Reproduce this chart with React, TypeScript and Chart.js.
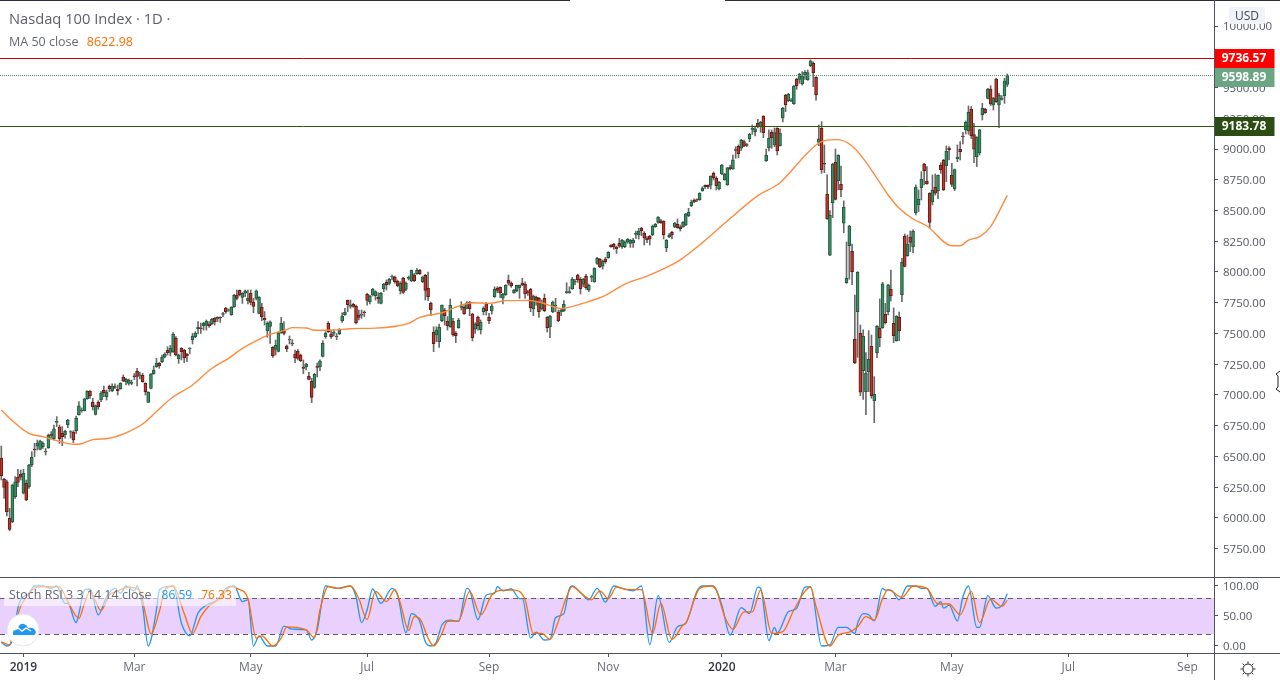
import { useEffect, useRef } from 'react';
import { Chart, registerables } from 'chart.js';

Chart.register(...registerables);

// one row per session: open, high, low, close
const candles: number[][] = [
  [6485,6585,6309,6344],[6314,6323,6160,6249],[6295,6309,6016,6052],[5997,6079,5897,5908],
  [5970,6276,5962,6268],[6173,6336,6160,6295],[6331,6396,6255,6290],[6355,6390,6309,6331],
  [6201,6396,6195,6363],[6282,6309,6141,6146],[6255,6436,6241,6431],[6431,6539,6417,6493],
  [6561,6607,6499,6553],[6583,6634,6553,6607],[6558,6634,6553,6626],[6580,6620,6566,6607],
  [6537,6566,6512,6542],[6572,6683,6566,6672],[6680,6702,6648,6672],[6645,6756,6634,6724],
  [6778,6824,6743,6786],[6740,6756,6607,6645],[6688,6743,6588,6661],[6678,6715,6648,6705],
  [6759,6802,6734,6797],[6697,6710,6650,6702],[6699,6710,6613,6634],[6710,6829,6688,6813],
  [6840,6946,6837,6911],[6873,6895,6860,6878],[6873,6973,6870,6968],[6970,7035,6965,7030],
  [7030,7035,6973,6995],[6943,6973,6878,6905],[6843,6919,6837,6913],[6940,6954,6884,6905],
  [6959,7027,6946,7016],[7038,7073,6986,7016],[6986,7041,6959,7024],[7071,7081,7027,7052],
  [7035,7090,7027,7073],[7068,7090,7052,7062],[7049,7081,7000,7035],[7052,7100,7046,7095],
  [7144,7163,7108,7114],[7106,7136,7081,7127],[7095,7130,7081,7119],[7095,7122,7084,7106],
  [7155,7175,7125,7149],[7192,7217,7073,7152],[7157,7185,7130,7163],[7160,7176,7103,7108],
  [7095,7100,7000,7027],[6940,7027,6938,7022],[7054,7176,7049,7171],[7174,7236,7168,7203],
  [7230,7298,7225,7257],[7257,7266,7217,7238],[7271,7325,7263,7306],[7309,7344,7301,7333],
  [7363,7393,7325,7344],[7347,7404,7317,7379],[7352,7507,7347,7496],[7461,7474,7317,7328],
  [7295,7333,7257,7323],[7379,7385,7285,7352],[7363,7371,7263,7304],[7331,7339,7271,7320],
  [7377,7385,7335,7382],[7450,7501,7415,7480],[7474,7515,7466,7504],[7539,7596,7496,7550],
  [7545,7585,7500,7539],[7564,7591,7528,7583],[7566,7610,7528,7599],[7577,7596,7550,7564],
  [7580,7623,7569,7615],[7623,7631,7569,7596],[7618,7637,7596,7631],[7631,7637,7590,7626],
  [7656,7672,7637,7661],[7707,7713,7664,7678],[7690,7700,7680,7693],[7653,7718,7648,7713],
  [7718,7818,7713,7810],[7813,7854,7772,7786],[7851,7854,7805,7816],[7794,7832,7745,7827],
  [7827,7854,7800,7846],[7767,7854,7740,7786],[7827,7854,7732,7753],[7753,7786,7669,7721],
  [7786,7854,7772,7846],[7664,7800,7659,7794],[7713,7745,7604,7637],[7623,7678,7569,7612],
  [7523,7596,7469,7583],[7558,7604,7420,7594],[7388,7393,7306,7317],[7371,7447,7325,7404],
  [7355,7515,7350,7501],[7507,7631,7501,7583],[7520,7596,7488,7501],[7398,7407,7352,7377],
  [7447,7480,7415,7453],[7415,7450,7400,7423],[7333,7366,7263,7304],[7355,7371,7285,7298],
  [7323,7333,7271,7279],[7225,7285,7173,7217],[7230,7257,7203,7252],[7152,7184,7122,7127],
  [7111,7136,6938,6981],[7062,7176,7054,7168],[7236,7260,7147,7225],[7230,7285,7198,7276],
  [7314,7442,7309,7420],[7474,7515,7461,7501],[7583,7596,7507,7515],[7496,7528,7461,7474],
  [7501,7530,7480,7512],[7475,7500,7450,7480],[7499,7540,7490,7528],[7604,7669,7591,7642],
  [7653,7704,7648,7672],[7769,7772,7677,7734],[7721,7772,7704,7729],[7737,7745,7712,7721],
  [7721,7731,7577,7588],[7650,7691,7610,7631],[7650,7691,7623,7658],[7674,7685,7637,7669],
  [7818,7826,7731,7769],[7759,7813,7740,7805],[7813,7867,7805,7859],[7807,7848,7772,7840],
  [7794,7832,7745,7783],[7745,7834,7740,7826],[7864,7908,7840,7899],[7916,7935,7853,7897],
  [7908,7948,7894,7940],[7959,7975,7935,7965],[7956,7967,7908,7921],[7924,7935,7880,7889],
  [7848,7921,7821,7908],[7948,7956,7826,7834],[7859,7921,7848,7908],[7948,7967,7935,7956],
  [7929,8016,7921,8013],[7978,7989,7921,7929],[7986,8030,7981,8013],[8013,8021,7978,7986],
  [7921,7967,7913,7959],[7973,7981,7772,7851],[7867,7999,7767,7799],[7745,7756,7645,7693],
  [7509,7555,7352,7417],[7490,7555,7433,7525],[7433,7577,7387,7550],[7604,7734,7596,7729],
  [7691,7704,7569,7645],[7599,7637,7528,7563],[7555,7780,7550,7729],[7599,7623,7479,7490],
  [7501,7515,7425,7482],[7547,7623,7542,7610],[7712,7759,7691,7721],[7712,7726,7656,7661],
  [7704,7759,7699,7750],[7753,7761,7645,7702],[7656,7664,7439,7466],[7536,7588,7501,7577],
  [7631,7642,7528,7563],[7531,7610,7496,7591],[7677,7718,7650,7704],[7745,7753,7650,7685],
  [7631,7664,7580,7604],[7683,7737,7658,7723],[7799,7880,7794,7859],[7867,7880,7832,7851],
  [7875,7880,7791,7832],[7788,7826,7740,7818],[7815,7897,7810,7891],[7932,7975,7894,7910],
  [7910,7921,7875,7886],[7832,7859,7826,7851],[7848,7894,7840,7891],[7872,7894,7786,7891],
  [7910,7948,7889,7894],[7902,7921,7786,7821],[7840,7850,7810,7832],[7859,7867,7677,7710],
  [7702,7813,7645,7805],[7796,7805,7731,7769],[7786,7794,7631,7677],[7699,7772,7691,7756],
  [7786,7821,7677,7685],[7631,7637,7512,7547],[7555,7647,7466,7639],[7677,7764,7669,7756],
  [7723,7786,7677,7731],[7672,7691,7596,7604],[7677,7696,7645,7691],[7685,7767,7677,7737],
  [7832,7913,7826,7840],[7832,7880,7826,7840],[7864,7956,7859,7943],[7918,7940,7894,7927],
  [7973,7983,7916,7935],[7940,7956,7821,7864],[7902,7948,7880,7940],[7964,7981,7859,7872],
  [7853,7902,7840,7891],[7956,7975,7921,7964],[7921,8035,7916,8030],[8070,8119,8062,8111],
  [8103,8111,8035,8043],[8048,8097,8024,8086],[8105,8119,8070,8084],[8116,8165,8111,8160],
  [8217,8222,8200,8206],[8225,8233,8184,8203],[8200,8211,8151,8189],[8233,8273,8200,8211],
  [8206,8265,8192,8257],[8206,8254,8198,8244],[8244,8273,8233,8265],[8233,8265,8200,8260],
  [8238,8273,8200,8260],[8306,8333,8273,8314],[8303,8355,8268,8333],[8355,8363,8295,8336],
  [8314,8328,8219,8279],[8276,8287,8238,8263],[8290,8298,8219,8268],[8303,8382,8295,8371],
  [8368,8395,8363,8387],[8404,8450,8395,8444],[8417,8428,8395,8401],[8412,8417,8268,8303],
  [8198,8265,8165,8257],[8287,8314,8279,8298],[8323,8331,8268,8301],[8366,8404,8361,8398],
  [8388,8431,8355,8361],[8363,8382,8333,8352],[8369,8409,8363,8404],[8382,8477,8377,8472],
  [8458,8518,8450,8485],[8539,8585,8531,8566],[8583,8594,8564,8572],[8588,8594,8572,8583],
  [8588,8645,8583,8640],[8661,8694,8656,8680],[8705,8708,8678,8694],[8705,8708,8678,8694],
  [8705,8783,8675,8778],[8802,8813,8748,8767],[8762,8775,8667,8702],[8678,8737,8667,8729],
  [8797,8875,8791,8870],[8751,8802,8745,8794],[8710,8851,8705,8846],[8854,8870,8829,8840],
  [8838,8951,8835,8911],[8995,9019,8924,8989],[9022,9033,8930,8962],[9006,9079,8987,9071],
  [9060,9073,9019,9024],[9035,9045,9020,9030],[9084,9127,9060,9119],[9160,9195,9119,9168],
  [9141,9187,9106,9163],[9209,9241,9171,9182],[9182,9225,9136,9217],[9266,9271,9092,9133],
  [8905,9000,8900,8949],[9011,9155,8984,9087],[9136,9155,9006,9092],[9033,9171,9019,9133],
  [9168,9174,8951,8984],[9027,9163,9022,9127],[9252,9339,9220,9331],[9436,9445,9304,9361],
  [9393,9453,9385,9445],[9390,9410,9385,9398],[9369,9518,9363,9512],[9566,9575,9485,9515],
  [9566,9615,9534,9607],[9529,9629,9520,9594],[9602,9637,9566,9623],[9564,9642,9558,9621],
  [9678,9724,9670,9716],[9697,9710,9507,9621],[9583,9588,9398,9442],[9054,9195,9027,9082],
  [9168,9222,8802,8832],[8884,9033,8808,8876],[8632,8789,8428,8434],[8136,8499,8133,8461],
  [8564,8884,8442,8876],[8892,9000,8586,8591],[8743,8954,8667,8949],[8713,8862,8613,8670],
  [8396,8578,8320,8526],[7914,8244,7908,7949],[8214,8380,7941,8374],[8168,8228,7897,8003],
  [7453,7813,7255,7263],[7678,8003,7306,7997],[7502,7569,6995,7022],[7198,7529,6965,7477],
  [7027,7344,6840,7176],[7190,7523,7027,7290],[7396,7488,6973,6995],[6954,7149,6775,7006],
  [7344,7564,7304,7558],[7542,7781,7393,7466],[7548,7916,7542,7903],[7656,7745,7577,7588],
  [7678,7900,7651,7895],[7859,8016,7764,7808],[7583,7708,7426,7483],[7442,7645,7437,7640],
  [7632,7675,7442,7523],[7816,8111,7759,8079],[8290,8309,8041,8046],[8133,8301,8128,8225],
  [8282,8334,8166,8241],[8206,8342,8157,8331],[8483,8708,8464,8689],[8548,8667,8491,8591],
  [8686,8816,8586,8754],[8876,8884,8708,8824],[8737,8857,8713,8718],[8640,8645,8353,8404],
  [8572,8789,8545,8664],[8689,8797,8626,8640],[8661,8789,8596,8786],[8867,8889,8802,8832],
  [8908,8916,8661,8670],[8865,9025,8735,8981],[9006,9019,8911,8995],[8786,8884,8694,8713],
  [8678,8838,8661,8832],[8922,9033,8897,8935],[8998,9060,8911,8979],[9106,9136,9041,9100],
  [9155,9228,9122,9217],[9149,9350,9120,9298],[9323,9345,9085,9109],[9117,9209,8889,8998],
  [8938,9100,8857,9095],[8970,9160,8951,9155],[9279,9371,9236,9331],[9323,9330,9290,9295],
  [9412,9493,9407,9488],[9488,9515,9352,9366],[9358,9420,9317,9415],[9569,9575,9379,9385],
  [9358,9453,9173,9439],[9404,9434,9398,9415],[9434,9575,9371,9553],[9526,9610,9507,9596],
];

// [session, value]
const ma50: number[][] = [
  [0,6878],[4,6791],[10,6688],[15,6661],[20,6629],[26,6599],[29,6604],[33,6637],[39,6648],[46,6702],
  [51,6764],[56,6865],[61,6968],[69,7081],[76,7217],[82,7298],[87,7379],[93,7453],[97,7493],[102,7523],
  [105,7548],[110,7545],[113,7526],[120,7528],[126,7539],[135,7544],[143,7561],[147,7582],[151,7631],
  [159,7669],[165,7723],[170,7750],[176,7745],[182,7767],[190,7769],[195,7750],[202,7704],[211,7753],
  [218,7810],[225,7902],[233,7967],[241,8048],[245,8098],[253,8239],[261,8396],[273,8621],[281,8726],
  [288,8897],[294,9033],[297,9068],[302,9076],[307,9024],[311,8924],[316,8762],[320,8626],[324,8518],
  [329,8431],[334,8374],[343,8214],[346,8214],[349,8260],[353,8287],[357,8369],[363,8623],
];

const stochK: number[][] = [
  [0,6],[2,0],[4,10],[6,63],[7,77],[10,88],[12,100],[15,100],[18,96],[20,100],[23,71],[24,71],[27,39],[28,54],
  [30,93],[32,95],[35,52],[38,82],[41,96],[43,88],[45,100],[48,92],[49,100],[51,66],[53,0],[56,60],[57,93],
  [60,99],[62,100],[65,38],[68,17],[71,55],[74,68],[78,77],[81,96],[84,100],[87,74],[89,77],[91,0],[93,17],
  [96,0],[99,0],[102,33],[105,28],[110,27],[112,10],[114,27],[117,100],[121,96],[126,100],[128,82],[130,39],
  [132,60],[134,95],[137,71],[141,96],[143,85],[146,22],[148,54],[151,41],[153,7],[155,0],[157,7],[159,35],
  [162,43],[165,41],[168,96],[169,93],[172,44],[175,85],[178,88],[179,99],[181,92],[184,95],[187,79],[188,79],
  [191,13],[193,23],[196,10],[198,11],[200,47],[203,54],[205,96],[206,100],[209,89],[212,77],[215,96],[218,73],
  [221,100],[224,96],[228,92],[231,100],[234,2],[237,84],[241,6],[244,32],[247,38],[251,91],[253,100],[257,100],
  [260,68],[263,18],[267,64],[270,54],[273,98],[274,96],[277,9],[279,31],[280,22],[284,57],[287,63],[290,98],
  [292,99],[296,0],[299,2],[302,31],[305,31],[308,21],[309,38],[311,54],[313,52],[315,42],[318,96],[319,93],
  [321,93],[324,77],[327,100],[330,100],[332,96],[334,96],[337,66],[339,74],[340,63],[342,68],[345,42],[347,82],
  [349,100],[352,31],[353,31],[356,84],[359,63],[361,67],[363,87],
];

const stochD: number[][] = [
  [0,7],[3,2],[4,21],[7,66],[9,82],[13,98],[17,99],[21,98],[24,74],[28,46],[30,71],[32,91],[36,59],[39,85],
  [42,92],[46,98],[50,92],[52,54],[54,20],[57,57],[59,93],[62,100],[66,54],[69,21],[72,49],[75,67],[79,79],
  [83,99],[85,96],[89,79],[92,13],[94,17],[98,0],[101,13],[103,32],[110,27],[113,14],[115,60],[118,99],[122,96],
  [126,100],[129,79],[132,44],[135,91],[139,74],[142,94],[144,71],[147,26],[149,49],[151,46],[154,13],[156,0],
  [159,21],[161,41],[165,42],[169,91],[173,52],[177,85],[181,93],[185,93],[189,77],[192,21],[195,21],[198,11],
  [201,41],[204,82],[206,99],[210,85],[213,77],[216,92],[219,79],[222,98],[226,94],[231,94],[235,21],[238,71],
  [242,11],[246,35],[247,38],[252,96],[256,100],[258,93],[261,49],[264,28],[268,57],[271,57],[274,93],[278,21],
  [282,24],[286,60],[292,98],[294,66],[299,0],[302,18],[306,23],[309,32],[312,49],[315,43],[318,79],[320,94],
  [325,81],[329,100],[334,96],[338,70],[342,70],[346,52],[350,91],[353,39],[357,78],[361,66],[363,76],
];

const priceTicks = [5750, 6000, 6250, 6500, 6750, 7000, 7250, 7500, 7750, 8000, 8250, 8500, 8750, 9000, 9250, 9500, 10000];
const stochTicks = [0, 50, 100];
const stochBand = [20, 80];
const timeBars = [8, 48, 90, 132, 176, 219, 260, 301, 343, 385, 428];
const timeLabels = ['2019', 'Mar', 'May', 'Jul', 'Sep', 'Nov', '2020', 'Mar', 'May', 'Jul', 'Sep'];

const levelValues = [9736.57, 9598.89, 9183.78];
const levelColors = ['#ff0000', '#6ca584', '#2b4d14'];
const levelLines = ['#c80000', '#5e9678', '#2b5a0c'];

const FONT = '"Open Sans", sans-serif';
const TEXT = '#555861';
const AXIS = '#50535e';
const UP = '#3c8c64';
const UP_EDGE = '#1f5a3d';
const DOWN = '#bd362b';
const DOWN_EDGE = '#651b14';
const WICK = '#6a6a6a';

// the x range is the same in both panes, so the bars line up with the time axis
const X_MIN = -0.47;
const X_MAX = 437.6;

const fixedAxis = (w?: number, h?: number) => (s: any) => {
  if (w) s.width = w;
  if (h) s.height = h;
  s.paddingTop = s.paddingBottom = s.paddingLeft = s.paddingRight = 0;
};

const pointsOf = (rows: number[][]) => rows.map(([x, y]) => ({ x, y }));

// horizontal levels and their price tags
const levelPlugin = {
  id: 'levels',
  afterDraw(chart: any) {
    const { ctx, chartArea, scales } = chart;
    let prevBottom = 0;
    levelValues.forEach((v, i) => {
      const y = Math.round(scales.y.getPixelForValue(v)) + 0.5;
      ctx.save();
      ctx.strokeStyle = levelLines[i];
      ctx.lineWidth = 1;
      ctx.setLineDash(i === 1 ? [1, 1] : []);
      ctx.beginPath();
      ctx.moveTo(0, y);
      ctx.lineTo(chartArea.right, y);
      ctx.stroke();
      ctx.setLineDash([]);
      const top = Math.max(y - 9.5, prevBottom);
      prevBottom = top + 19;
      ctx.fillStyle = levelColors[i];
      ctx.fillRect(chartArea.right + 0.5, top, 60, 19);
      ctx.fillStyle = '#fff';
      ctx.font = `bold 12px ${FONT}`;
      ctx.textAlign = 'center';
      ctx.textBaseline = 'middle';
      ctx.fillText(v.toFixed(2), chartArea.right + 30, top + 10);
      ctx.restore();
    });
  },
};

const bandPlugin = {
  id: 'band',
  beforeDatasetsDraw(chart: any) {
    const { ctx, chartArea, scales } = chart;
    const y0 = scales.y.getPixelForValue(stochBand[1]);
    const y1 = scales.y.getPixelForValue(stochBand[0]);
    ctx.save();
    ctx.fillStyle = '#e9d0fd';
    ctx.fillRect(0, y0, chartArea.right, y1 - y0);
    ctx.strokeStyle = '#5f5a6b';
    ctx.setLineDash([5, 4]);
    [y0, y1].forEach((y: number) => {
      ctx.beginPath();
      ctx.moveTo(0, Math.round(y) + 0.5);
      ctx.lineTo(chartArea.right, Math.round(y) + 0.5);
      ctx.stroke();
    });
    ctx.restore();
  },
};

function rule(left: number, top: number, width: number, height: number, color = AXIS) {
  return { position: 'absolute', left, top, width, height, background: color } as const;
}

export default function App() {
  const priceRef = useRef<HTMLCanvasElement>(null);
  const stochRef = useRef<HTMLCanvasElement>(null);

  useEffect(() => {
    if (!priceRef.current || !stochRef.current) return;

    const priceChart = new Chart(priceRef.current, {
      type: 'bar',
      data: {
        datasets: [
          {
            type: 'line',
            data: pointsOf(ma50),
            borderColor: '#ff8a3c',
            borderWidth: 1.4,
            pointRadius: 0,
            cubicInterpolationMode: 'monotone',
            order: 0,
          },
          {
            data: candles.map(([o, , , c], i) => ({ x: i, y: [o, c] })),
            backgroundColor: candles.map(([o, , , c]) => (c >= o ? UP : DOWN)),
            borderColor: candles.map(([o, , , c]) => (c >= o ? UP_EDGE : DOWN_EDGE)),
            borderWidth: 1,
            borderSkipped: false,
            barThickness: 3,
            grouped: false,
            order: 1,
          },
          {
            data: candles.map(([, h, l], i) => ({ x: i, y: [l, h] })),
            backgroundColor: WICK,
            barThickness: 1,
            grouped: false,
            order: 2,
          },
        ],
      } as any,
      options: {
        animation: false,
        responsive: false,
        maintainAspectRatio: false,
        layout: { padding: 0 },
        plugins: { legend: { display: false }, tooltip: { enabled: false } },
        scales: {
          x: { type: 'linear', min: X_MIN, max: X_MAX, offset: false, display: false },
          y: {
            position: 'right',
            min: 5520.3,
            max: 10211.4,
            beginAtZero: false,
            border: { display: false },
            grid: { drawOnChartArea: false, tickLength: 4, color: AXIS },
            afterBuildTicks: (s: any) => {
              s.ticks = priceTicks.map((value) => ({ value }));
            },
            afterFit: fixedAxis(66),
            ticks: {
              autoSkip: false,
              padding: 5,
              labelOffset: 1,
              color: TEXT,
              font: { family: FONT, size: 11.5 },
              callback: (v: any) => Number(v).toFixed(2),
            },
          },
        },
      } as any,
      plugins: [levelPlugin],
    });

    const stochChart = new Chart(stochRef.current, {
      type: 'line',
      data: {
        datasets: [
          { data: pointsOf(stochD), borderColor: '#ff6d00', borderWidth: 1.3, pointRadius: 0, cubicInterpolationMode: 'monotone', order: 1 },
          { data: pointsOf(stochK), borderColor: '#2196f3', borderWidth: 1.3, pointRadius: 0, cubicInterpolationMode: 'monotone', order: 2 },
        ],
      },
      options: {
        animation: false,
        responsive: false,
        maintainAspectRatio: false,
        layout: { padding: 0 },
        plugins: { legend: { display: false }, tooltip: { enabled: false } },
        scales: {
          x: {
            type: 'linear',
            min: X_MIN,
            max: X_MAX,
            border: { display: false },
            grid: { drawOnChartArea: false, tickLength: 4, color: AXIS },
            afterBuildTicks: (s: any) => {
              s.ticks = timeBars.map((value) => ({ value }));
            },
            afterFit: fixedAxis(undefined, 27),
            ticks: {
              autoSkip: false,
              maxRotation: 0,
              padding: 3,
              color: (c: any) => (timeLabels[c.index]?.length === 4 ? '#33363f' : '#6a6d78'),
              font: (c: any) => ({
                family: FONT,
                size: 12,
                weight: timeLabels[c.index]?.length === 4 ? '600' : '400',
              }),
              callback: (_v: any, i: number) => timeLabels[i],
            },
          },
          y: {
            position: 'right',
            min: -11.7,
            max: 113.3,
            border: { display: false },
            grid: { drawOnChartArea: false, tickLength: 4, color: AXIS },
            afterBuildTicks: (s: any) => {
              s.ticks = stochTicks.map((value) => ({ value }));
            },
            afterFit: fixedAxis(66),
            ticks: {
              autoSkip: false,
              padding: 5,
              labelOffset: 1,
              color: TEXT,
              font: { family: FONT, size: 11.5 },
              callback: (v: any) => Number(v).toFixed(2),
            },
          },
        },
      } as any,
      plugins: [bandPlugin],
    });

    return () => {
      priceChart.destroy();
      stochChart.destroy();
    };
  }, []);

  return (
    <div style={{ position: 'fixed', left: 0, top: 0, width: 1280, height: 680, background: '#fff', overflow: 'hidden', fontFamily: FONT }}>
      <canvas ref={priceRef} width={1280} height={577} style={{ position: 'absolute', left: 0, top: 0 }} />
      <canvas ref={stochRef} width={1280} height={102} style={{ position: 'absolute', left: 0, top: 578 }} />

      <div style={rule(0, 0, 570, 1, '#2a2e39')} />
      <div style={rule(725, 0, 555, 1, '#2a2e39')} />
      <div style={rule(0, 577, 1280, 1)} />
      <div style={rule(0, 653, 1280, 1)} />
      <div style={rule(1214, 0, 1, 680)} />

      <div style={{ position: 'absolute', left: 9, top: 8, fontSize: 14.7, color: '#5d6068', whiteSpace: 'nowrap' }}>
        Nasdaq 100 Index · 1D ·
      </div>
      <div style={{ position: 'absolute', left: 9, top: 33, fontSize: 12.5, color: '#666973', whiteSpace: 'nowrap' }}>
        MA 50 close <span style={{ color: '#ff6d00', marginLeft: 5, fontWeight: 500 }}>8622.98</span>
      </div>

      <div style={{ position: 'absolute', left: 4, top: 585, width: 232, height: 21, background: 'rgba(255,255,255,0.55)' }} />
      <div style={{ position: 'absolute', left: 9, top: 586, fontSize: 12.5, color: '#666973', whiteSpace: 'nowrap' }}>
        Stoch RSI 3 3 14 14 close
        <span style={{ color: '#2196f3', marginLeft: 10, fontSize: 12 }}>86.59</span>
        <span style={{ color: '#ff6d00', marginLeft: 9, fontSize: 12 }}>76.33</span>
      </div>

      <div style={{ position: 'absolute', left: 1229, top: 7, width: 36, height: 17, background: '#f0f3fa', borderRadius: 3, fontSize: 12, lineHeight: '17px', textAlign: 'center', color: '#444750' }}>
        USD
      </div>

      <svg width={1280} height={680} style={{ position: 'absolute', left: 0, top: 0, pointerEvents: 'none' }}>
        <circle cx={23} cy={630} r={16} fill="#fff" stroke="#e4e6ea" strokeWidth={1} />
        <path d="M13 635 q-1 -6 5 -7 q2 -5 6 -4 q3 1 4 4 q5 -1 7 2 q2 3 -1 5 z" fill="#2196f3" />
        <path d="M14 630 l4 -2 l4 3 l4 -3 l5 3" fill="none" stroke="#fff" strokeWidth={1.4} />
        <path d="M1280 371 L1276 374 L1278 376 L1278 387 L1276 389 L1280 392" fill="#fff" stroke="#222" strokeWidth={1} />
        <g stroke="#222" strokeWidth={1} fill="none">
          <circle cx={1248} cy={669} r={5} />
          <path d="M1248 661.5v2M1248 674.5v2M1240.5 669h2M1253.5 669h2M1242.7 663.7l1.4 1.4M1251.9 672.9l1.4 1.4M1242.7 674.3l1.4 -1.4M1251.9 665.1l1.4 -1.4" />
        </g>
      </svg>
    </div>
  );
}
